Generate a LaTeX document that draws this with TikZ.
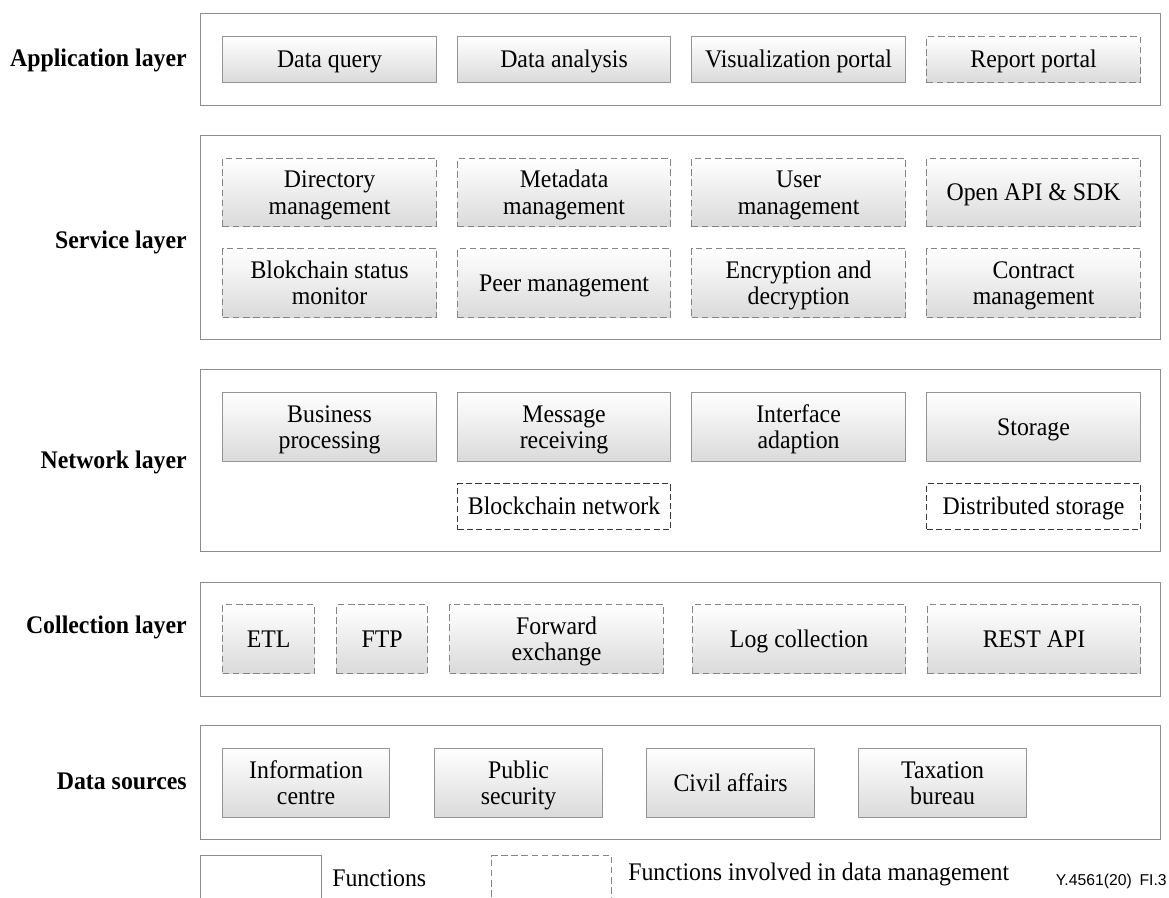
\documentclass[tikz,border=0pt]{standalone}
\usepackage{fontspec}
\setmainfont{Liberation Serif}[FakeStretch=0.94]
\newfontfamily\tagfont{Liberation Sans}
\definecolor{layergray}{HTML}{8C8C8C}
\definecolor{boxgray}{HTML}{959595}
\definecolor{dashgray}{HTML}{858585}
\definecolor{fillgray}{HTML}{DADADA}
\newcommand\fnsize{\fontsize{19}{19.9}\selectfont}
% one text line, centred on its capital height
\newcommand\cl[1]{\smash{#1}\vphantom{H}}
\begin{document}
\begin{tikzpicture}[x=0.75pt,y=-0.75pt,
  sz/.style 2 args={minimum width=#1*0.75pt, minimum height=#2*0.75pt},
  layerbox/.style={draw=layergray, line width=1.1pt, inner sep=0pt, anchor=north west},
  fn/.style={draw=boxgray, line width=0.85pt, top color=white, bottom color=fillgray,
    align=center, inner sep=0pt, font=\fnsize, anchor=north west},
  dm/.style={fn, draw=dashgray, dash pattern=on 5pt off 2.6pt},
  dmw/.style={draw=black!78, line width=0.9pt, dash pattern=on 4.6pt off 2.4pt,
    fill=white, align=center, inner sep=0pt, font=\fnsize, anchor=north west},
  lbl/.style={font=\fnsize\bfseries, anchor=east, inner sep=0pt},
  legtxt/.style={font=\fnsize, anchor=west, inner sep=0pt}]
\useasboundingbox (0,0) rectangle (1169,897);

% ---- Application layer ----
\node[layerbox, sz={960}{92}] (appL) at (200,13) {};
\node[lbl] (appT) at (187,58) {\cl{Application layer}};
\node[fn, sz={214}{46}] (dq) at (222,36) {\cl{Data query}};
\node[fn, sz={213}{46}] (da) at (457,36) {\cl{Data analysis}};
\node[fn, sz={214}{46}] (vp) at (691,36) {\cl{Visualization portal}};
\node[dm, sz={214}{46}] (rp) at (926,36) {\cl{Report portal}};

% ---- Service layer ----
\node[layerbox, sz={960}{204}] (srvL) at (200,135) {};
\node[lbl] (srvT) at (187,240) {\cl{Service layer}};
\node[dm, sz={214}{68}] (dir) at (222,158) {\cl{Directory}\\\cl{management}};
\node[dm, sz={213}{68}] (meta) at (457,158) {\cl{Metadata}\\\cl{management}};
\node[dm, sz={214}{68}] (usr) at (691,158) {\cl{User}\\\cl{management}};
\node[dm, sz={214}{68}] (api) at (926,158) {\cl{Open API \& SDK}};
\node[dm, sz={214}{69}] (bsm) at (222,248) {\cl{Blokchain status}\\\cl{monitor}};
\node[dm, sz={213}{69}] (peer) at (457,248) {\cl{Peer management}};
\node[dm, sz={214}{69}] (enc) at (691,248) {\cl{Encryption and}\\\cl{decryption}};
\node[dm, sz={214}{69}] (con) at (926,248) {\cl{Contract}\\\cl{management}};

% ---- Network layer ----
\node[layerbox, sz={960}{182}] (netL) at (200,369) {};
\node[lbl] (netT) at (187,460) {\cl{Network layer}};
\node[fn, sz={214}{69}] (bp) at (222,392) {\cl{Business}\\\cl{processing}};
\node[fn, sz={213}{69}] (mr) at (457,392) {\cl{Message}\\\cl{receiving}};
\node[fn, sz={214}{69}] (ia) at (691,392) {\cl{Interface}\\\cl{adaption}};
\node[fn, sz={214}{69}] (st) at (926,392) {\cl{Storage}};
\node[dmw, sz={213}{46}] (bcn) at (457,483) {\cl{Blockchain network}};
\node[dmw, sz={214}{46}] (ds) at (926,483) {\cl{Distributed storage}};

% ---- Collection layer ----
\node[layerbox, sz={960}{114}] (colL) at (200,582) {};
\node[lbl] (colT) at (187,625) {\cl{Collection layer}};
\node[dm, sz={92}{69}] (etl) at (222,604) {\cl{ETL}};
\node[dm, sz={91}{69}] (ftp) at (336,604) {\cl{FTP}};
\node[dm, sz={214}{69}] (fx) at (449,604) {\cl{Forward}\\\cl{exchange}};
\node[dm, sz={213}{69}] (log) at (692,604) {\cl{Log collection}};
\node[dm, sz={213}{69}] (rest) at (927,604) {\cl{REST API}};

% ---- Data sources ----
\node[layerbox, sz={960}{114}] (srcL) at (200,725) {};
\node[lbl] (srcT) at (187,781) {\cl{Data sources}};
\node[fn, sz={167}{69}] (ic) at (222,748) {\cl{Information}\\\cl{centre}};
\node[fn, sz={168}{69}] (ps) at (434,748) {\cl{Public}\\\cl{security}};
\node[fn, sz={168}{69}] (ca) at (646,748) {\cl{Civil affairs}};
\node[fn, sz={168}{69}] (tb) at (858,748) {\cl{Taxation}\\\cl{bureau}};

% ---- Legend ----
\node[layerbox, sz={121}{60}] (legA) at (200,855) {};
\node[legtxt] (legAT) at (332,878) {\cl{Functions}};
\node[layerbox, draw=dashgray, line width=0.85pt, dash pattern=on 5pt off 2.6pt, sz={120}{60}] (legB) at (491,855) {};
\node[legtxt] (legBT) at (628,872) {\cl{Functions involved in data management}};
\node[font=\tagfont\fontsize{11.8}{13}\selectfont, anchor=east, inner sep=0pt] (tag) at (1167,880) {\cl{Y.4561(20)\enspace FI.3}};
\end{tikzpicture}
\end{document}
